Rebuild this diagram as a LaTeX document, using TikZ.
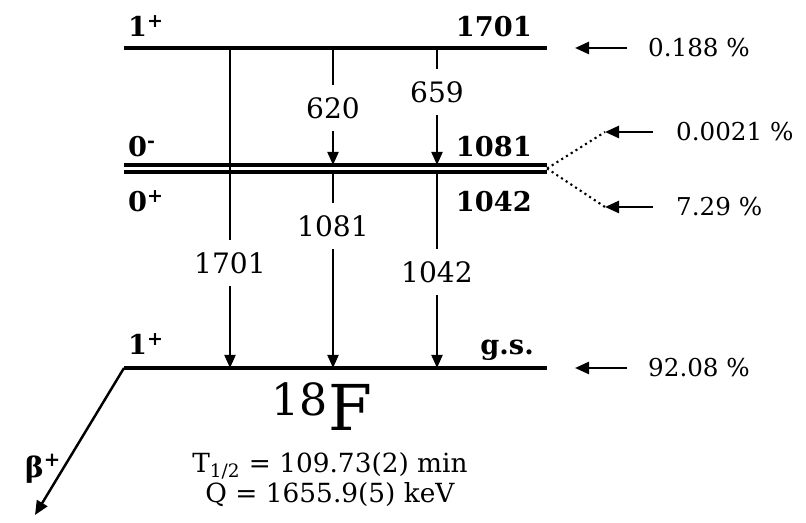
\documentclass[tikz,border=0pt]{standalone}
\usepackage{fontspec}
\setmainfont{DejaVu Serif}
\usetikzlibrary{arrows.meta, positioning, calc}

\tikzset{
    lvl/.style={line width=2.2pt},
    gam/.style={line width=1.1pt, -{Triangle[length=2.6mm,width=2.2mm]}},
    feed/.style={line width=1.4pt, -{Triangle[length=2.8mm,width=2.4mm]}},
    glabel/.style={fill=white, inner xsep=1pt, inner ysep=7pt, font=\fontsize{16}{18}\selectfont},
    spin/.style={font=\bfseries\fontsize{15.5}{17}\selectfont, anchor=base west},
    energy/.style={font=\bfseries\fontsize{15.5}{17}\selectfont, anchor=base east},
    feedlbl/.style={font=\fontsize{14}{16}\selectfont, anchor=west},
}

\begin{document}
\begin{tikzpicture}
    \useasboundingbox (0,0) rectangle (16.12,10.46);

    % Level end points
    \coordinate (L1701w) at (2.48,9.5);   \coordinate (L1701e) at (10.94,9.5);
    \coordinate (L1081w) at (2.48,7.16);  \coordinate (L1081e) at (10.94,7.16);
    \coordinate (L1042w) at (2.48,7.02);  \coordinate (L1042e) at (10.94,7.02);
    \coordinate (Lgsw) at (2.48,3.1);     \coordinate (Lgse) at (10.94,3.1);
    \coordinate (split) at (10.94,7.09);

    % Levels
    \draw[lvl] (L1701w) -- (L1701e);
    \draw[line width=2.1pt] (L1081w) -- (L1081e);
    \draw[line width=2.1pt] (L1042w) -- (L1042e);
    \draw[lvl] (Lgsw) -- (Lgse);

    % Spins and energies
    \node[spin] (s1701) at (2.44,9.72) {1\textsuperscript{+}};
    \node[energy] (e1701) at (10.76,9.72) {1701};
    \node[spin] (s1081) at (2.44,7.32) {0\textsuperscript{-}};
    \node[energy] (e1081) at (10.76,7.32) {1081};
    \node[spin] (s1042) at (2.44,6.22) {0\textsuperscript{+}};
    \node[energy] (e1042) at (10.76,6.22) {1042};
    \node[spin] (sgs) at (2.44,3.36) {1\textsuperscript{+}};
    \node[energy] (egs) at (10.8,3.36) {g.s.};

    % Gamma transitions
    \draw[gam] (L1701w -| 4.6,0) -- node[glabel, pos=0.672] (g1701) {1701} (Lgsw -| 4.6,0);
    \draw[gam] (L1701w -| 6.66,0) -- node[glabel, pos=0.513] (g620) {620} (L1081w -| 6.66,0);
    \draw[gam] (L1042w -| 6.66,0) -- node[glabel, pos=0.276] (g1081) {1081} (Lgsw -| 6.66,0);
    \draw[gam] (L1701w -| 8.74,0) -- node[glabel, pos=0.376] (g659) {659} (L1081w -| 8.74,0);
    \draw[gam] (L1042w -| 8.74,0) -- node[glabel, pos=0.51] (g1042) {1042} (Lgsw -| 8.74,0);

    % Beta feeding
    \coordinate (f1701) at (11.5,9.5);
    \coordinate (f1081) at (12.1,7.82);
    \coordinate (f1042) at (12.1,6.32);
    \coordinate (fgs) at (11.5,3.1);
    \draw[line width=1.2pt, dotted] (split) -- (f1081);
    \draw[line width=1.2pt, dotted] (split) -- (f1042);

    \node[feedlbl] (p1701) at (12.84,9.5) {0.188 \%};
    \node[feedlbl] (p1081) at (13.4,7.82) {0.0021 \%};
    \node[feedlbl] (p1042) at (13.4,6.32) {7.29 \%};
    \node[feedlbl] (pgs) at (12.84,3.1) {92.08 \%};
    \draw[feed] ($(p1701.west)+(-0.3,0)$) -- (f1701);
    \draw[feed] ($(p1081.west)+(-0.34,0)$) -- (f1081);
    \draw[feed] ($(p1042.west)+(-0.34,0)$) -- (f1042);
    \draw[feed] ($(pgs.west)+(-0.3,0)$) -- (fgs);

    % Parent decay
    \coordinate (bend) at (0.7,0.16);
    \draw[feed] (Lgsw) -- (bend);
    \node[font=\bfseries\fontsize{16}{18}\selectfont, anchor=base west] (beta) at (0.38,0.9) {β\textsuperscript{+}};

    % Nuclide data
    \node[font=\fontsize{36}{38}\selectfont, anchor=base] (nuc) at (6.44,1.84) {\textsuperscript{18}F};
    \node[font=\fontsize{15}{17}\selectfont, anchor=base] (half) at (6.6,1.0) {T\textsubscript{1/2} = 109.73(2) min};
    \node[font=\fontsize{15}{17}\selectfont, anchor=base] (qval) at (6.6,0.4) {Q = 1655.9(5) keV};
\end{tikzpicture}
\end{document}
